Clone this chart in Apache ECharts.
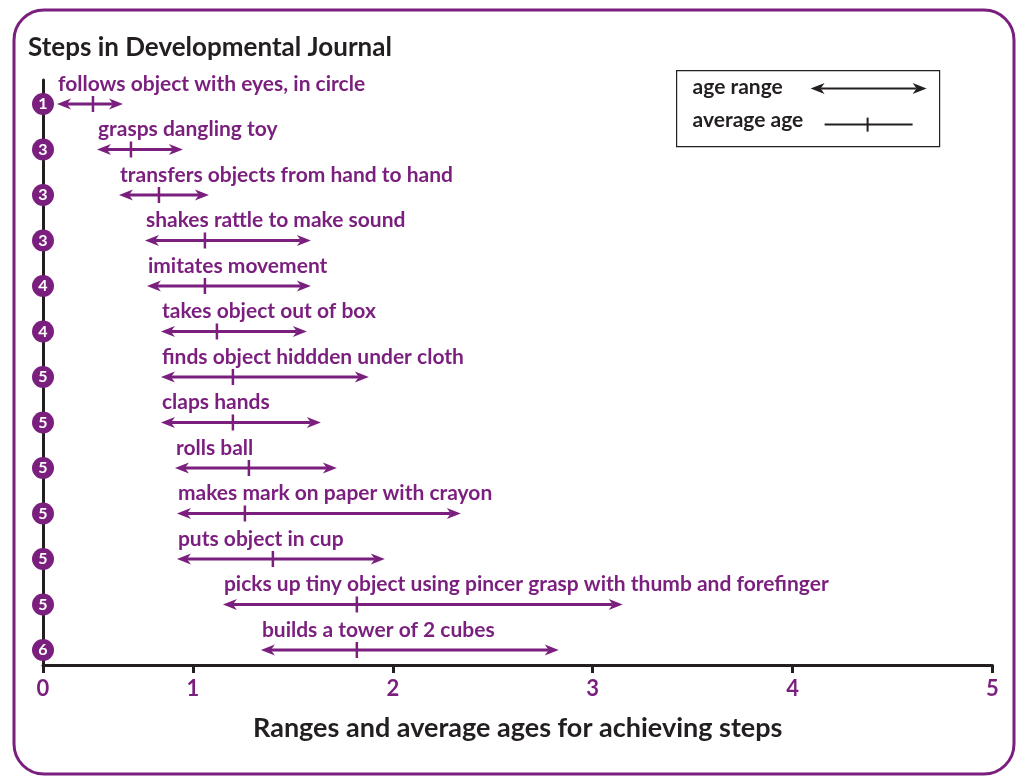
<!DOCTYPE html>
<html>
<head>
<meta charset="utf-8">
<title>Steps in Developmental Journal</title>
<script src="https://cdn.jsdelivr.net/npm/echarts@6/dist/echarts.min.js"></script>
<style>
  html, body { margin: 0; padding: 0; background: #fff; }
  #chart { width: 1021px; height: 776px; }
</style>
</head>
<body>
<div id="chart"></div>
<script>
// steps, top to bottom
const steps = [
  'follows object with eyes, in circle',
  'grasps dangling toy',
  'transfers objects from hand to hand',
  'shakes rattle to make sound',
  'imitates movement',
  'takes object out of box',
  'finds object hiddden under cloth',
  'claps hands',
  'rolls ball',
  'makes mark on paper with crayon',
  'puts object in cup',
  'picks up tiny object using pincer grasp with thumb and forefinger',
  'builds a tower of 2 cubes'
]
const badges = [1, 3, 3, 3, 4, 4, 5, 5, 5, 5, 5, 5, 6]
const ageFrom = [0.32, 0.52, 0.63, 0.76, 0.77, 0.84, 0.84, 0.84, 0.91, 0.92, 0.92, 1.15, 1.34]
const ageTo = [0.65, 0.95, 1.08, 1.59, 1.59, 1.57, 1.88, 1.64, 1.72, 2.34, 1.96, 3.15, 2.83]
const ageAvg = [0.50, 0.69, 0.83, 1.06, 1.06, 1.12, 1.20, 1.20, 1.28, 1.26, 1.40, 1.82, 1.82]
// axis starts a little past zero, the origin is labelled 0
const tickValues = [0.25, 1, 2, 3, 4, 5]
const tickLabels = ['0', '1', '2', '3', '4', '5']

const PURPLE = '#7b1f7e'
const INK = '#231f20'
const FONT = 'Lato, "Noto Sans", sans-serif'

const chart = echarts.init(document.getElementById('chart'))

function arrowHead(x, y, dir, color) {
  // dir = 1 points right, -1 points left
  const L = 14
  const H = 5.5
  const N = 4
  return {
    type: 'polygon',
    shape: {
      points: [[x, y], [x - dir * L, y - H], [x - dir * (L - N), y], [x - dir * L, y + H]]
    },
    style: { fill: color }
  }
}

function renderStep(params, api) {
  const i = api.value(0)
  const a = api.coord([api.value(1), i])
  const b = api.coord([api.value(2), i])
  const m = api.coord([api.value(3), i])
  const y = a[1]
  return {
    type: 'group',
    children: [
      {
        type: 'line',
        shape: { x1: a[0] + 10, y1: y, x2: b[0] - 10, y2: y },
        style: { stroke: PURPLE, lineWidth: 3 }
      },
      arrowHead(a[0], y, -1, PURPLE),
      arrowHead(b[0], y, 1, PURPLE),
      {
        type: 'line',
        shape: { x1: m[0], y1: y - 8, x2: m[0], y2: y + 8 },
        style: { stroke: PURPLE, lineWidth: 2.5 }
      },
      {
        type: 'text',
        x: a[0] + 1,
        y: y - 20,
        style: {
          text: steps[i],
          fill: PURPLE,
          font: 'bold 21px ' + FONT,
          verticalAlign: 'middle'
        }
      }
    ]
  }
}

// legend drawn by hand
const legend = {
  type: 'group',
  left: 676,
  top: 70,
  children: [
    { type: 'rect', shape: { x: 0, y: 0, width: 263, height: 76 }, style: { fill: '#fff', stroke: INK, lineWidth: 1.2 } },
    { type: 'text', x: 16, y: 17, style: { text: 'age range', fill: INK, font: 'bold 21px ' + FONT, verticalAlign: 'middle' } },
    { type: 'line', shape: { x1: 144, y1: 18, x2: 240, y2: 18 }, style: { stroke: INK, lineWidth: 2 } },
    arrowHead(134, 18, -1, INK),
    arrowHead(250, 18, 1, INK),
    { type: 'text', x: 16, y: 50, style: { text: 'average age', fill: INK, font: 'bold 21px ' + FONT, verticalAlign: 'middle' } },
    { type: 'line', shape: { x1: 148, y1: 54, x2: 236, y2: 54 }, style: { stroke: INK, lineWidth: 2 } },
    { type: 'line', shape: { x1: 191, y1: 47, x2: 191, y2: 61 }, style: { stroke: INK, lineWidth: 2 } }
  ]
}

chart.setOption({
  animation: false,
  backgroundColor: '#fff',
  title: {
    text: 'Steps in Developmental Journal',
    left: 23,
    top: 30,
    textStyle: { color: INK, fontSize: 26, fontWeight: 'bold', fontFamily: FONT }
  },
  graphic: [
    {
      type: 'rect',
      shape: { x: 14, y: 10, width: 1000, height: 764, r: 30 },
      style: { fill: 'none', stroke: PURPLE, lineWidth: 3 },
      z: -1
    },
    legend
  ],
  grid: { left: 43, right: 28.5, top: 80, bottom: 111 },
  xAxis: {
    type: 'value',
    min: 0.25,
    max: 5,
    name: 'Ranges and average ages for achieving steps',
    nameLocation: 'middle',
    nameGap: 50,
    nameTextStyle: { color: INK, fontSize: 27, fontWeight: 'bold', fontFamily: FONT },
    axisLine: { onZero: false, lineStyle: { color: INK, width: 3 } },
    axisTick: { show: true, length: 8, lineStyle: { color: INK, width: 3 }, customValues: tickValues },
    axisLabel: {
      customValues: tickValues,
      formatter: v => tickLabels[tickValues.indexOf(v)],
      color: PURPLE,
      fontSize: 22,
      fontWeight: 'bold',
      fontFamily: FONT,
      margin: 13
    },
    splitLine: { show: false }
  },
  yAxis: {
    type: 'value',
    inverse: true,
    min: -0.527,
    max: 12.33,
    axisLine: { show: true, onZero: false, lineStyle: { color: INK, width: 3 } },
    axisTick: { show: false },
    axisLabel: { show: false },
    splitLine: { show: false }
  },
  series: [
    {
      type: 'custom',
      clip: false,
      renderItem: renderStep,
      encode: { x: [1, 2, 3], y: 0 },
      data: steps.map((s, i) => [i, ageFrom[i], ageTo[i], ageAvg[i]]),
      z: 3
    },
    {
      type: 'scatter',
      symbolSize: 22,
      itemStyle: { color: PURPLE, opacity: 1 },
      label: {
        show: true,
        position: 'inside',
        formatter: p => p.value[2],
        color: '#fff',
        fontSize: 16,
        fontWeight: 'bold',
        fontFamily: FONT
      },
      data: badges.map((b, i) => [0.25, i, b]),
      clip: false,
      z: 4
    }
  ]
})
</script>
</body>
</html>
